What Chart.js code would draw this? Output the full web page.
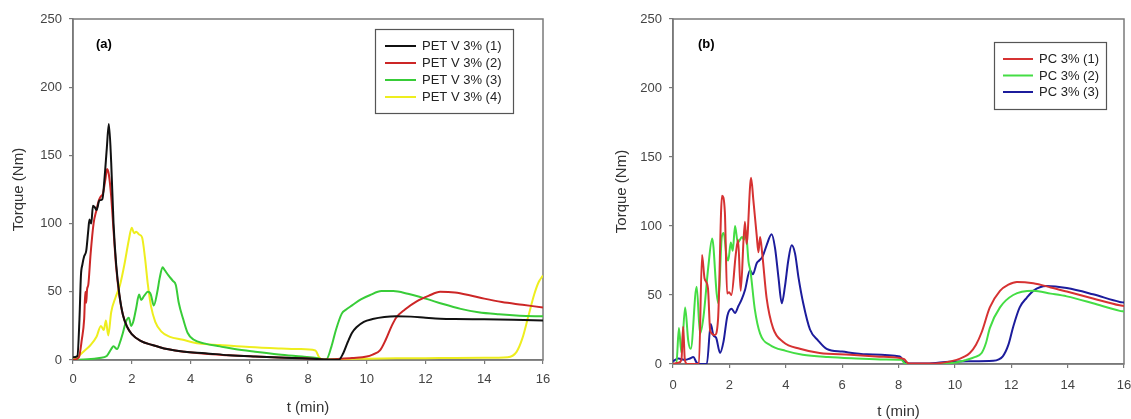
<!DOCTYPE html>
<html>
<head>
<meta charset="utf-8">
<script src="https://cdn.jsdelivr.net/npm/chart.js@4.4.1/dist/chart.umd.min.js"></script>
<style>
  html, body { margin: 0; padding: 0; background: #fff; }
  #wrap { position: relative; width: 1131px; height: 419px; overflow: hidden; background: #fff; }
  #cA { position: absolute; left: 0; top: 0; }
  #cB { position: absolute; left: 560px; top: 0; }
</style>
</head>
<body>
<div id="wrap">
  <canvas id="cA" width="560" height="419"></canvas>
  <canvas id="cB" width="571" height="419"></canvas>
</div>
<script>
// ---------- shared axis ticks ----------
const xTicks = [0, 2, 4, 6, 8, 10, 12, 14, 16];
const yTicks = [0, 50, 100, 150, 200, 250];

// ---------- panel (a) ----------
const labelsA = ["PET V 3% (1)", "PET V 3% (2)", "PET V 3% (3)", "PET V 3% (4)"];

const petT1 = [0, 0.15, 0.22, 0.27, 0.32, 0.38, 0.45, 0.52, 0.56, 0.62, 0.68, 0.74, 0.8, 0.9, 1.0, 1.08, 1.15, 1.22, 1.3, 1.38, 1.47, 1.58, 1.7, 1.85, 2.0, 2.3, 2.7, 3.2, 3.8, 4.5, 5.3, 6.2, 7.0, 7.8, 8.3, 8.6, 9.05, 9.2, 9.35, 9.5, 9.65, 9.9, 10.2, 10.6, 11.0, 11.5, 12.0, 12.5, 13.0, 14.0, 15.0, 16.0];
const petV1 = [2, 3, 30, 62, 70, 76, 80, 95, 103, 100, 113, 112, 110, 117, 118, 135, 155, 173, 145, 100, 70, 48, 33, 24, 19, 14, 11, 8, 6, 5, 3.5, 2.5, 1.8, 1.2, 0.8, 0.3, 0.2, 5, 13, 20, 24, 28, 30, 31.5, 32, 31.8, 31, 30.3, 30, 29.8, 29.5, 29];

const petT2 = [0, 0.2, 0.3, 0.38, 0.42, 0.45, 0.48, 0.52, 0.6, 0.7, 0.8, 0.88, 0.95, 1.02, 1.1, 1.16, 1.22, 1.3, 1.38, 1.47, 1.58, 1.7, 1.85, 2.0, 2.3, 2.7, 3.2, 3.8, 4.5, 5.3, 6.2, 7.0, 7.8, 8.3, 8.6, 9.0, 9.5, 10.0, 10.2, 10.45, 10.65, 10.85, 11.0, 11.3, 11.7, 12.1, 12.5, 13.0, 13.5, 14.0, 14.6, 15.3, 16.0];
const petV2 = [0, 2, 15, 30, 50, 42, 52, 55, 78, 100, 110, 117, 120, 122, 132, 140, 136, 120, 95, 68, 47, 33, 24, 19, 14, 11, 8, 6, 4.5, 3.5, 2.5, 1.8, 1.2, 0.8, 0.3, 0.8, 1.5, 2.5, 4, 7, 15, 25, 31, 37, 43, 47, 50, 49.5, 47.5, 45, 42.5, 40.5, 38.5];

const petT3 = [0, 0.5, 0.9, 1.15, 1.3, 1.38, 1.5, 1.6, 1.7, 1.8, 1.9, 1.98, 2.05, 2.15, 2.25, 2.32, 2.42, 2.55, 2.65, 2.75, 2.87, 2.95, 3.05, 3.12, 3.25, 3.4, 3.5, 3.6, 3.75, 3.9, 4.1, 4.5, 5.0, 5.5, 6.2, 7.0, 7.8, 8.3, 8.5, 8.62, 8.8, 8.95, 9.15, 9.3, 9.5, 9.8, 10.1, 10.5, 10.9, 11.4, 12.0, 12.6, 13.2, 13.8, 14.5, 15.2, 16.0];
const petV3 = [0, 0.5, 1.5, 3, 8, 10, 8, 13, 20, 28, 31, 25, 28, 38, 48, 44, 47, 50, 48, 40, 50, 60, 68, 66, 62, 58, 55, 42, 30, 20, 15, 12, 10, 8, 6, 4, 2.5, 1.5, 0.5, 0.3, 10, 22, 34, 37, 40, 44.5, 47.5, 50.5, 50.5, 48.5, 45, 41, 37.5, 35, 33.5, 32.5, 32];

const petT4 = [0, 0.2, 0.4, 0.6, 0.8, 0.95, 1.05, 1.12, 1.2, 1.3, 1.45, 1.6, 1.75, 1.9, 2.0, 2.08, 2.15, 2.25, 2.35, 2.45, 2.55, 2.65, 2.8, 3.0, 3.3, 3.7, 4.3, 5.0, 6.0, 7.0, 7.7, 8.25, 8.38, 8.5, 8.7, 9.0, 10.0, 11.0, 12.0, 13.0, 14.0, 14.8, 15.1, 15.3, 15.5, 15.7, 15.85, 16.0];
const petV4 = [0, 3, 7, 11, 17, 25, 22, 29, 18, 35, 46, 55, 70, 88, 97, 93, 94, 92, 90, 75, 55, 40, 28, 21, 17, 15, 12, 11, 9.5, 8.5, 8, 7, 2, 0.5, 0.3, 0.8, 1, 1.2, 1.3, 1.5, 1.6, 2, 6, 16, 32, 48, 57, 62];

// ---------- panel (b) ----------
const labelsB = ["PC 3% (1)", "PC 3% (2)", "PC 3% (3)"];

const pcT1 = [0, 0.2, 0.3, 0.36, 0.42, 0.5, 0.92, 1.03, 1.12, 1.24, 1.32, 1.48, 1.6, 1.74, 1.84, 1.92, 1.99, 2.07, 2.23, 2.31, 2.4, 2.55, 2.61, 2.77, 2.85, 2.97, 3.03, 3.09, 3.17, 3.32, 3.55, 3.91, 4.5, 5.2, 6.3, 7.2, 8.05, 8.2, 8.35, 9.0, 9.6, 10.06, 10.3, 10.53, 10.75, 10.95, 11.24, 11.6, 11.9, 12.2, 12.78, 13.4, 13.97, 14.9, 15.85, 16.0];
const pcV1 = [0, 1, 3, 27, 3, 0, 0, 79, 62, 55, 24, 21, 33, 122, 110, 51, 52, 50, 80, 90, 53, 103, 87, 135, 119, 93, 81, 92, 79, 48, 26, 16, 11, 8, 6.7, 5.5, 4.3, 3.5, 0.4, 0.3, 1, 3, 5, 8, 14, 23, 41, 53, 57.5, 59.5, 58.5, 55.5, 52.5, 47.5, 42.5, 42];

const pcT2 = [0, 0.12, 0.21, 0.3, 0.43, 0.54, 0.63, 0.84, 0.96, 1.08, 1.25, 1.39, 1.55, 1.61, 1.73, 1.8, 1.9, 1.96, 2.05, 2.12, 2.2, 2.3, 2.45, 2.52, 2.58, 2.68, 2.75, 2.9, 3.09, 3.44, 4.0, 4.6, 5.5, 6.5, 7.5, 8.1, 8.25, 9.0, 10.0, 10.4, 10.7, 10.95, 11.1, 11.24, 11.6, 12.07, 12.78, 13.4, 13.97, 14.9, 15.85, 16.0];
const pcV2 = [0, 0, 26, 8, 41, 17, 11, 56, 22, 34, 70, 91, 51, 44, 92, 95, 78, 75, 88, 82, 100, 88, 92, 90, 97, 74, 67, 40, 22, 13.8, 9.5, 6.7, 5, 4, 3.3, 3, 0, 0, 1, 3, 5, 8, 15, 26, 41, 50, 53, 51, 49, 44, 38.5, 38];

const pcT3 = [0, 0.19, 0.43, 0.6, 0.72, 0.84, 0.96, 1.2, 1.34, 1.43, 1.53, 1.67, 1.79, 1.93, 2.08, 2.2, 2.32, 2.44, 2.56, 2.73, 2.83, 2.97, 3.06, 3.18, 3.32, 3.5, 3.62, 3.74, 3.86, 3.97, 4.09, 4.21, 4.33, 4.45, 4.62, 4.86, 5.15, 5.45, 6.0, 6.87, 8.05, 8.2, 8.4, 9.0, 9.82, 10.5, 11.36, 11.7, 11.9, 12.07, 12.3, 12.55, 12.78, 13.25, 13.97, 14.9, 15.85, 16.0];
const pcV3 = [2, 4, 3, 4, 5, 1, 0, 0, 29, 21, 19, 8, 16, 35, 40, 37, 42, 47, 54, 68, 65, 73, 75, 78, 86, 94, 84, 63, 44, 56, 75, 86, 80, 63, 44, 25, 17, 11, 9, 7, 5.5, 1.6, 0.3, 0.3, 1.7, 2, 2.4, 5.6, 14, 27, 41, 48, 53, 56.5, 55, 50.5, 45, 44.5];

// ---------- helpers ----------
function pts(ts, vs) { return ts.map((t, i) => ({ x: t, y: vs[i] })); }
const FONT = "'Liberation Sans', Arial, sans-serif";
const AXIS_COLOR = '#7a7a7a';

function frameAndLegendPlugin(opts) {
  return {
    id: 'frameLegend' + opts.key,
    beforeDatasetsDraw(chart) {
      const a = chart.chartArea, ctx = chart.ctx;
      ctx.save();
      ctx.strokeStyle = AXIS_COLOR;
      ctx.lineWidth = 1.5;
      ctx.strokeRect(a.left, a.top, a.right - a.left, a.bottom - a.top);
      ctx.restore();
    },
    afterDraw(chart) {
      const ctx = chart.ctx;
      ctx.save();
      // panel tag
      ctx.fillStyle = '#000';
      ctx.font = 'bold 13px ' + FONT;
      ctx.textBaseline = 'middle';
      ctx.textAlign = 'left';
      ctx.fillText(opts.tag, opts.tagX, opts.tagY);
      // legend box
      const L = opts.legend;
      ctx.fillStyle = '#fff';
      ctx.fillRect(L.x, L.y, L.w, L.h);
      ctx.strokeStyle = '#555';
      ctx.lineWidth = 1.2;
      ctx.strokeRect(L.x + 0.5, L.y + 0.5, L.w, L.h);
      ctx.font = '13px ' + FONT;
      chart.data.datasets.forEach((ds, i) => {
        const yy = L.y0 + i * L.dy;
        ctx.strokeStyle = ds.borderColor;
        ctx.lineWidth = 2;
        ctx.beginPath();
        ctx.moveTo(L.lx0, yy);
        ctx.lineTo(L.lx1, yy);
        ctx.stroke();
        ctx.fillStyle = '#222';
        ctx.fillText(ds.label, L.tx, yy + 0.5);
      });
      ctx.restore();
    }
  };
}

function makeChart(canvas, datasets, cfg) {
  return new Chart(canvas, {
    type: 'line',
    data: { datasets },
    options: {
      responsive: false,
      animation: false,
      devicePixelRatio: 1,
      layout: { padding: { top: cfg.padTop, right: cfg.padRight, left: 0, bottom: 0 } },
      plugins: { legend: { display: false }, tooltip: { enabled: false } },
      elements: { point: { radius: 0 }, line: { borderWidth: 2, cubicInterpolationMode: 'monotone' } },
      scales: {
        x: {
          type: 'linear', min: 0, max: 16,
          afterBuildTicks(s) { s.ticks = xTicks.map(v => ({ value: v })); },
          afterFit(s) { s.height = cfg.xHeight; s.paddingLeft = 0; s.paddingRight = 0; },
          ticks: { color: '#444', font: { family: FONT, size: 13 }, padding: cfg.xTickPad, maxRotation: 0, autoSkip: false },
          grid: { display: true, drawOnChartArea: false, drawTicks: true, tickLength: 4, color: AXIS_COLOR, lineWidth: 1.2 },
          border: { display: true, color: AXIS_COLOR, width: 1.5 },
          title: { display: true, text: 't (min)', color: '#333', font: { family: FONT, size: 15, lineHeight: 1 }, padding: { top: 0, bottom: cfg.xTitlePad } }
        },
        y: {
          type: 'linear', min: 0, max: 250,
          afterBuildTicks(s) { s.ticks = yTicks.map(v => ({ value: v })); },
          afterFit(s) { s.width = cfg.yWidth; s.paddingTop = 0; s.paddingBottom = 0; },
          ticks: { color: '#444', font: { family: FONT, size: 13 }, padding: 7, autoSkip: false },
          grid: { display: true, drawOnChartArea: false, drawTicks: true, tickLength: 4, color: AXIS_COLOR, lineWidth: 1.2 },
          border: { display: true, color: AXIS_COLOR, width: 1.5 },
          title: { display: true, text: 'Torque (Nm)', color: '#333', font: { family: FONT, size: 15, lineHeight: 1 }, padding: { top: cfg.yTitlePad, bottom: 0 } }
        }
      }
    },
    plugins: [frameAndLegendPlugin(cfg)]
  });
}

const dsA = [
  { label: labelsA[0], data: pts(petT1, petV1), borderColor: '#111111' },
  { label: labelsA[1], data: pts(petT2, petV2), borderColor: '#cc2626' },
  { label: labelsA[2], data: pts(petT3, petV3), borderColor: '#38cc38' },
  { label: labelsA[3], data: pts(petT4, petV4), borderColor: '#eeee1e' }
];
const dsB = [
  { label: labelsB[0], data: pts(pcT1, pcV1), borderColor: '#d63232' },
  { label: labelsB[1], data: pts(pcT2, pcV2), borderColor: '#44dd44' },
  { label: labelsB[2], data: pts(pcT3, pcV3), borderColor: '#1c1c9c' }
];
dsA.forEach(d => { d.fill = false; });
dsB.forEach(d => { d.fill = false; });

makeChart(document.getElementById('cA'), dsA, {
  key: 'A', padTop: 19, padRight: 17, xHeight: 59, yWidth: 73, xTickPad: 8, xTitlePad: 4, yTitlePad: 11,
  tag: '(a)', tagX: 96, tagY: 44,
  legend: { x: 375, y: 29, w: 138, h: 84, y0: 46, dy: 17, lx0: 385, lx1: 416, tx: 422 }
});
makeChart(document.getElementById('cB'), dsB, {
  key: 'B', padTop: 19, padRight: 7, xHeight: 55, yWidth: 113, xTickPad: 10, xTitlePad: 0, yTitlePad: 54,
  tag: '(b)', tagX: 138, tagY: 44,
  legend: { x: 434, y: 42, w: 112, h: 67, y0: 59, dy: 16.5, lx0: 443, lx1: 473, tx: 479 }
});
</script>
</body>
</html>
